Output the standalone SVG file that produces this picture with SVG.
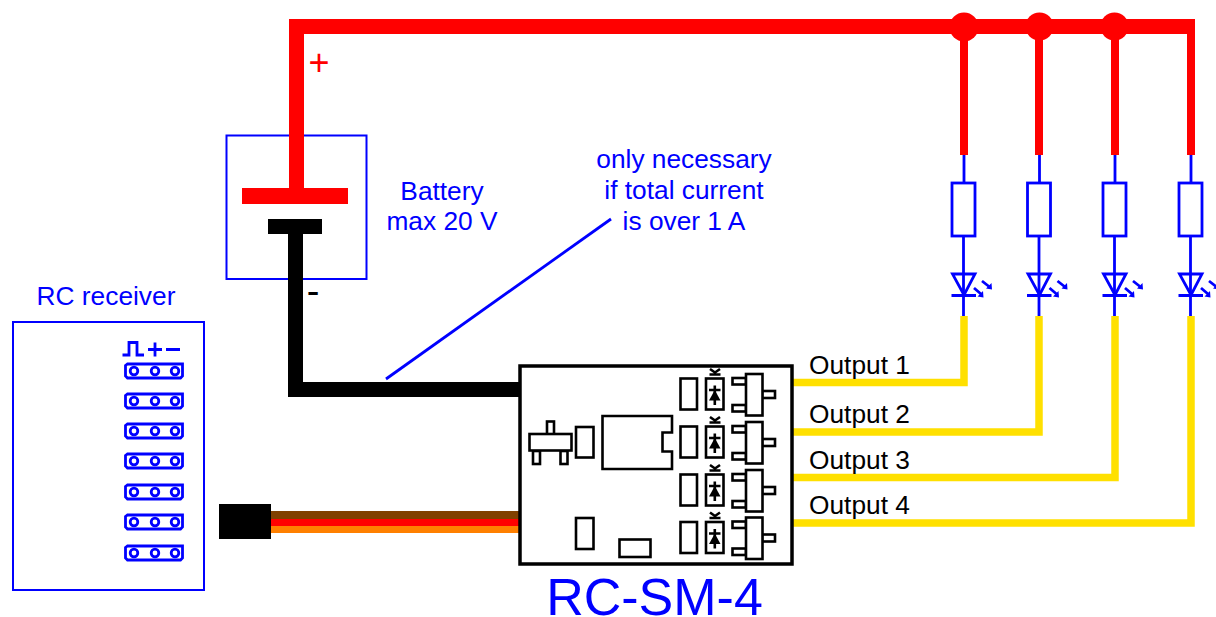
<svg xmlns="http://www.w3.org/2000/svg" width="1216" height="617" viewBox="0 0 1216 617">
<style>
text{font-family:"Liberation Sans",Arial,sans-serif;font-size:26.300px}
.b{fill:#0000ff}.k{fill:#000}.m{text-anchor:middle}
.pcb{fill:#fff;stroke:#000;stroke-width:2.600}
.bl{fill:none;stroke:#0000ff;stroke-width:2.800}
.red{fill:none;stroke:#ff0000}
.yel{fill:none;stroke:#ffe000;stroke-width:7.500}
</style>
<defs>
<g id="hdr">
<path class="bl" d="M125.500 365.500L127.500 364H182.500V376L180.500 378H127.500L125.500 376Z"/>
<circle class="bl" cx="134" cy="371" r="3.800"/><circle class="bl" cx="155" cy="371" r="3.800"/><circle class="bl" cx="175" cy="371" r="3.800"/>
</g>
<g id="led">
<path class="bl" d="M0 155V183M-0.500 236V316"/>
<rect class="bl" x="-12" y="183" width="23" height="53"/>
<path class="bl" d="M-11.500 274H11L0 295ZM-12.500 295.500H12"/>
<path class="bl" d="M10 288L17 294M18 281L25 286.500"/>
<path class="b" d="M19.500 297.500L13.500 296.500L19 291ZM28 289.500L22 288.500L27.500 283Z"/>
</g>
<g id="chan">
<rect class="pcb" x="680.500" y="378.500" width="16.500" height="31"/>
<rect class="pcb" x="706" y="378.500" width="17.500" height="31"/>
<path class="pcb" d="M714.800 385.500V405M709 390H720.500"/>
<path class="k" d="M714.800 390L709 400.500H720.500Z"/>
<path class="pcb" fill="none" style="fill:none" d="M710 369L715 372.500L720 369M709.500 374.500H720.500"/>
<rect class="pcb" x="732.500" y="378" width="13.500" height="6.500"/>
<rect class="pcb" x="732.500" y="405" width="13.500" height="6.500"/>
<rect class="pcb" x="762" y="391" width="13" height="7"/>
<rect class="pcb" x="746" y="374" width="16.500" height="41.500"/>
</g>
</defs>
<g id="connectors">
<path class="red" stroke-width="15" d="M1195 26.500H296.500V190"/>
<path class="red" stroke-width="8" d="M964 27V155M1039 27V155M1115 27V155M1191 27V155"/>
<circle cx="964" cy="27" r="14.500" fill="#ff0000"/>
<circle cx="1039.500" cy="26.500" r="14" fill="#ff0000"/>
<circle cx="1114.500" cy="26.500" r="14" fill="#ff0000"/>
<path fill="none" stroke="#000" stroke-width="15" d="M295.500 230V389.500H520"/>
<path class="yel" d="M792 382.500H964V316M792 432H1039V316M792 477.500H1115V316M792 523H1191V316"/>
<rect x="270" y="511" width="250" height="8" fill="#804000"/>
<rect x="270" y="519" width="250" height="7" fill="#ff0000"/>
<rect x="270" y="526" width="250" height="7" fill="#ff8000"/>
<path class="bl" d="M386 379L611 219"/>
</g>
<g id="battery">
<rect class="bl" x="226.500" y="135.500" width="140" height="143.500" style="stroke-width:2"/>
<path class="red" stroke-width="15" d="M296.500 130V190"/>
<rect x="242" y="188" width="106" height="16" fill="#ff0000"/>
<rect x="268" y="219" width="54" height="15" fill="#000"/>
<path fill="none" stroke="#000" stroke-width="15" d="M295.500 230V285"/>
<text x="319" y="75" fill="#ff0000" class="m" style="font-size:36px">+</text>
<text x="313" y="304" class="k m" style="font-size:38px">-</text>
<text x="442" y="200" class="b m">Battery</text>
<text x="442" y="230" class="b m">max 20 V</text>
</g>
<g id="note">
<text x="684" y="168" class="b m">only necessary</text>
<text x="684" y="199" class="b m">if total current</text>
<text x="684" y="230" class="b m">is over 1 A</text>
</g>
<g id="receiver">
<text x="106" y="305" class="b m">RC receiver</text>
<rect class="bl" x="13" y="322" width="191" height="268" style="stroke-width:2"/>
<path class="bl" d="M122.500 355H129V342.500H137V355H144M148 349.500H162M155 342.500V356.500M166 349.500H180"/>
<use href="#hdr"/><use href="#hdr" y="30"/><use href="#hdr" y="60"/><use href="#hdr" y="90"/><use href="#hdr" y="121"/><use href="#hdr" y="151"/><use href="#hdr" y="182"/>
</g>
<g id="plug"><rect x="219" y="504" width="52" height="35" fill="#000"/></g>
<g id="module">
<rect x="520" y="366" width="272" height="198" fill="#fff" stroke="#000" stroke-width="3.500"/>
<rect class="pcb" x="547" y="421.500" width="7" height="13"/>
<rect class="pcb" x="533" y="451" width="7" height="13"/>
<rect class="pcb" x="560.500" y="451" width="7" height="13"/>
<rect class="pcb" x="529.500" y="434" width="42" height="16.500"/>
<rect class="pcb" x="576" y="427" width="17.500" height="30.500"/>
<path class="pcb" d="M602.500 416H672V432.500H662.500V451.500H672V469H602.500Z"/>
<rect class="pcb" x="576" y="518" width="17.500" height="31"/>
<rect class="pcb" x="619.500" y="539.500" width="31" height="17.500"/>
<use href="#chan"/><use href="#chan" y="48"/><use href="#chan" y="96"/><use href="#chan" y="143.500"/>
<text x="654.500" y="615" class="b m" style="font-size:52px">RC-SM-4</text>
</g>
<g id="out1"><use href="#led" x="964"/><text x="809" y="374" class="k">Output 1</text></g>
<g id="out2"><use href="#led" x="1039.500"/><text x="809" y="423" class="k">Output 2</text></g>
<g id="out3"><use href="#led" x="1115"/><text x="809" y="469" class="k">Output 3</text></g>
<g id="out4"><use href="#led" x="1191"/><text x="809" y="514" class="k">Output 4</text></g>
</svg>
